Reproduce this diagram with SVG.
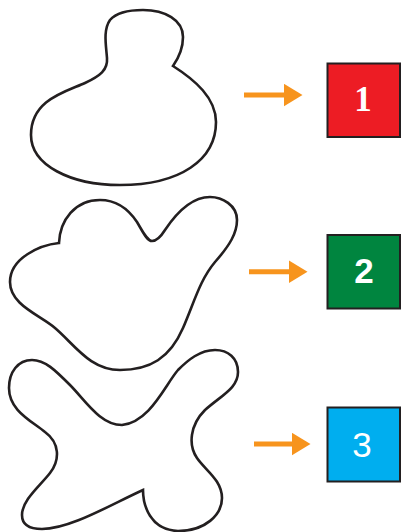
<svg xmlns="http://www.w3.org/2000/svg" width="401" height="532" viewBox="0 0 401 532">
<style>
.shape{fill:#fff;stroke:#231f20;stroke-width:2.6;stroke-linejoin:miter}
.box{stroke:#231f20;stroke-width:2}
.arrow{stroke:#f7941d;stroke-width:5;fill:none}
.lbl{fill:#fff;font-size:35px;text-anchor:middle}
.serif{font-family:'Liberation Serif','DejaVu Serif',serif;font-weight:bold}
.sans{font-family:'Liberation Sans',Arial,sans-serif}
</style>
<defs>
<marker id="ah" markerUnits="userSpaceOnUse" viewBox="0 0 19 23" markerWidth="19" markerHeight="23" refX="0.5" refY="11.5" orient="auto">
<path d="M0 0 L19 11.5 L0 23 Z" fill="#f7941d"/>
</marker>
</defs>
<g id="shape1"><path class="shape" d="M173 66 C195 80 216 98 216 122 C216 160 180 185 120 185 C70 185 31 165 31 135 C31 100 65 92 85 83 C100 76 108 70 107 58 C106 45 103 30 110 20 C117 12 130 10 143 10 C165 10 183 20 183 37 C183 48 180 56 173 66 Z"/></g>
<g id="shape2"><path class="shape" d="M59 243 C40 245 10 258 10 282 C10 305 40 315 55 328 C75 345 90 370 120 370 C150 370 170 358 183 328 C195 300 200 280 215 262 C230 245 237 233 237 220 C237 205 222 197 210 197 C190 197 175 215 165 230 C160 238 156 241 152 241 C147 241 143 232 137 222 C127 207 115 200 100 200 C75 200 60 220 59 243 Z"/></g>
<g id="shape3"><path class="shape" d="M143 490 C143 505 150 530 178 531 C205 531 222 515 222 498 C222 480 205 470 197 458 C188 445 190 425 205 410 C222 395 238 388 238 372 C238 358 228 350 215 350 C200 350 188 360 178 370 C165 385 150 422 122 425 C100 425 85 400 70 385 C55 370 45 360 32 360 C18 360 9 372 9 388 C9 410 30 420 45 432 C60 443 60 460 50 473 C40 486 22 500 22 515 C22 525 30 529 42 529 C70 529 110 505 143 490 Z"/></g>
<g id="connectors">
<line class="arrow" x1="244" y1="95" x2="284" y2="95" marker-end="url(#ah)"/>
<line class="arrow" x1="249" y1="271.7" x2="289" y2="271.7" marker-end="url(#ah)"/>
<line class="arrow" x1="254" y1="444" x2="292" y2="444" marker-end="url(#ah)"/>
</g>
<g id="box1"><rect class="box" x="327.5" y="63.5" width="72.5" height="73.5" fill="#ed1c24"/><text class="lbl serif" x="363" y="111">1</text></g>
<g id="box2"><rect class="box" x="327.5" y="235" width="72.5" height="73.5" fill="#00853f"/><text class="lbl sans" x="364" y="283" font-weight="bold">2</text></g>
<g id="box3"><rect class="box" x="327.5" y="407.5" width="72.5" height="74" fill="#00aeef"/><text class="lbl sans" x="362" y="456.5">3</text></g>
</svg>
